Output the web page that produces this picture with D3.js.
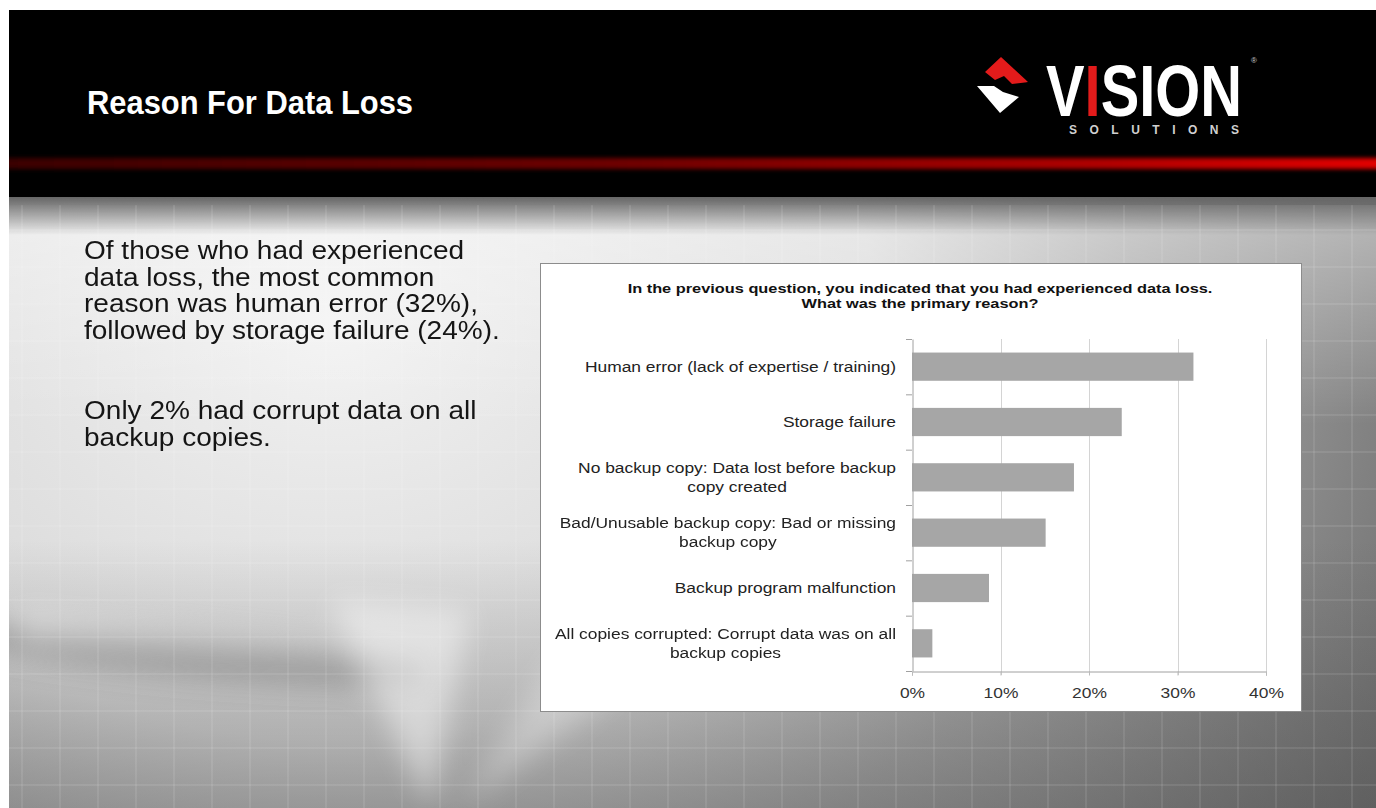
<!DOCTYPE html>
<html>

<head>
    <meta charset="utf-8">
    <title>Reason For Data Loss</title>
    <script src="https://d3js.org/d3.v7.min.js"></script>
    <style>
        body {
            margin: 0;
            background: #fff;
        }

        text {
            font-family: Arial, "Liberation Sans", sans-serif;
        }
    </style>
</head>

<body>
    <svg width="1376" height="808"></svg>
    <script>
        // Chart data
        var categories = [
            "Human error (lack of expertise / training)",
            "Storage failure",
            "No backup copy: Data lost before backup copy created",
            "Bad/Unusable backup copy: Bad or missing backup copy",
            "Backup program malfunction",
            "All copies corrupted: Corrupt data was on all backup copies"
        ];
        var categoryLines = [
            ["Human error (lack of expertise / training)"],
            ["Storage failure"],
            ["No backup copy: Data lost before backup", "copy created"],
            ["Bad/Unusable backup copy: Bad or missing", "backup copy"],
            ["Backup program malfunction"],
            ["All copies corrupted: Corrupt data was on all", "backup copies"]
        ];
        var values = [0.318, 0.237, 0.183, 0.151, 0.087, 0.023];
        var tickValues = [0, 0.1, 0.2, 0.3, 0.4];

        var chartTitle = [
            "In the previous question, you indicated that you had experienced data loss.",
            "What was the primary reason?"
        ];
        var bodyText = [
            "Of those who had experienced",
            "data loss, the most common",
            "reason was human error (32%),",
            "followed by storage failure (24%).",
            "",
            "Only 2% had corrupt data on all",
            "backup copies."
        ];

        var width = 1376;
        var height = 808;
        var labelScale = 1.2;   // the slide text is a bit wider than plain Arial

        var svg = d3.select("svg")
            .attr("width", width)
            .attr("height", height);

        var defs = svg.append("defs");

        // Gradients for the slide background
        var bodyGrad = defs.append("radialGradient")
            .attr("id", "bodyGrad")
            .attr("gradientUnits", "userSpaceOnUse")
            .attr("cx", 330).attr("cy", 320).attr("r", 1000)
            .attr("gradientTransform", "translate(330,320) scale(1.3,1) translate(-330,-320)");
        bodyGrad.append("stop").attr("offset", "0").attr("stop-color", "#f2f2f2");
        bodyGrad.append("stop").attr("offset", "0.42").attr("stop-color", "#d8d8d8");
        bodyGrad.append("stop").attr("offset", "0.62").attr("stop-color", "#a6a6a6");
        bodyGrad.append("stop").attr("offset", "0.8").attr("stop-color", "#838383");
        bodyGrad.append("stop").attr("offset", "0.95").attr("stop-color", "#686868");

        var topLight = defs.append("linearGradient")
            .attr("id", "topLight")
            .attr("x1", 0).attr("y1", 0).attr("x2", 0).attr("y2", 1);
        topLight.append("stop").attr("offset", "0").attr("stop-color", "#fff").attr("stop-opacity", 0.45);
        topLight.append("stop").attr("offset", "1").attr("stop-color", "#fff").attr("stop-opacity", 0);

        var bottomShade = defs.append("linearGradient")
            .attr("id", "bottomShade")
            .attr("x1", 0).attr("y1", 0).attr("x2", 0).attr("y2", 1);
        bottomShade.append("stop").attr("offset", "0").attr("stop-color", "#505050").attr("stop-opacity", 0);
        bottomShade.append("stop").attr("offset", "1").attr("stop-color", "#505050").attr("stop-opacity", 0.4);

        var topShade = defs.append("linearGradient")
            .attr("id", "topShade")
            .attr("x1", 0).attr("y1", 0).attr("x2", 0).attr("y2", 1);
        topShade.append("stop").attr("offset", "0").attr("stop-color", "#666");
        topShade.append("stop").attr("offset", "1").attr("stop-color", "#666").attr("stop-opacity", 0);

        var redGrad = defs.append("linearGradient")
            .attr("id", "redGrad")
            .attr("x1", 0).attr("y1", 0).attr("x2", 1).attr("y2", 0);
        redGrad.append("stop").attr("offset", "0").attr("stop-color", "#3a0404");
        redGrad.append("stop").attr("offset", "0.45").attr("stop-color", "#6e0000");
        redGrad.append("stop").attr("offset", "0.8").attr("stop-color", "#b00000");
        redGrad.append("stop").attr("offset", "1").attr("stop-color", "#e30000");

        defs.append("filter").attr("id", "blur")
            .attr("x", "-50%").attr("y", "-50%").attr("width", "200%").attr("height", "200%")
            .append("feGaussianBlur").attr("stdDeviation", 14);
        defs.append("filter").attr("id", "softBlur")
            .attr("x", "-20%").attr("y", "-200%").attr("width", "140%").attr("height", "500%")
            .append("feGaussianBlur").attr("stdDeviation", 2);
        defs.append("clipPath").attr("id", "slideClip")
            .append("rect").attr("x", 9).attr("y", 10).attr("width", width - 9).attr("height", height - 10);

        var slide = svg.append("g").attr("clip-path", "url(#slideClip)");

        // Body background
        slide.append("rect")
            .attr("x", 9).attr("y", 197)
            .attr("width", width - 9).attr("height", height - 197)
            .attr("fill", "url(#bodyGrad)");
        slide.append("rect")
            .attr("x", 9).attr("y", 205)
            .attr("width", width - 9).attr("height", 220)
            .attr("fill", "url(#topLight)");
        slide.append("rect")
            .attr("x", 9).attr("y", 540)
            .attr("width", width - 9).attr("height", height - 540)
            .attr("fill", "url(#bottomShade)");

        // Streaks in the lower left
        var streaks = slide.append("g").attr("filter", "url(#blur)");
        streaks.append("ellipse")
            .attr("cx", 190).attr("cy", 655).attr("rx", 240).attr("ry", 20)
            .attr("transform", "rotate(5,190,655)")
            .attr("fill", "#666").attr("opacity", 0.45);
        streaks.append("path")
            .attr("d", "M430,808 L330,600 L470,610 Z")
            .attr("fill", "#fff").attr("opacity", 0.45);
        streaks.append("path")
            .attr("d", "M460,808 L560,650 L620,690 Z")
            .attr("fill", "#fff").attr("opacity", 0.3);
        streaks.append("path")
            .attr("d", "M20,610 L420,660 L20,640 Z")
            .attr("fill", "#fff").attr("opacity", 0.35);

        slide.append("rect")
            .attr("x", 9).attr("y", 197)
            .attr("width", width - 9).attr("height", 38)
            .attr("fill", "url(#topShade)");

        // Faint grid over the background
        var grid = slide.append("g")
            .attr("stroke", "#fff")
            .attr("stroke-opacity", 0.12)
            .attr("stroke-width", 1.5);
        grid.selectAll(".vline")
            .data(d3.range(22, width, 38))
            .enter().append("line")
            .attr("x1", function (d) { return d; })
            .attr("x2", function (d) { return d; })
            .attr("y1", 205).attr("y2", height);
        grid.selectAll(".hline")
            .data(d3.range(230, height, 37))
            .enter().append("line")
            .attr("x1", 9).attr("x2", width)
            .attr("y1", function (d) { return d; })
            .attr("y2", function (d) { return d; });

        // Header bar
        slide.append("rect")
            .attr("x", 9).attr("y", 10)
            .attr("width", width - 9).attr("height", 187)
            .attr("fill", "#000");
        slide.append("rect")
            .attr("x", 0).attr("y", 158)
            .attr("width", width + 10).attr("height", 11)
            .attr("fill", "url(#redGrad)")
            .attr("filter", "url(#softBlur)");

        svg.append("text")
            .attr("x", 87).attr("y", 114)
            .attr("fill", "#fff")
            .attr("font-size", 33)
            .attr("font-weight", "bold")
            .attr("textLength", 326)
            .attr("lengthAdjust", "spacingAndGlyphs")
            .text("Reason For Data Loss");

        // Logo
        var logo = svg.append("g");
        logo.append("path")
            .attr("d", "M985,72 L1001,57 L1028,82 L1012,84 L1004,76 L995,80 Z")
            .attr("fill", "#e31b1b");
        logo.append("path")
            .attr("d", "M977,86 L994,86 L1003,92 L1019,97 L1000,113 Z")
            .attr("fill", "#fff");
        var vision = logo.append("text")
            .attr("x", 1046).attr("y", 116)
            .attr("font-size", 72)
            .attr("font-weight", "bold")
            .attr("fill", "#fff")
            .attr("textLength", 196)
            .attr("lengthAdjust", "spacingAndGlyphs");
        vision.append("tspan").text("V");
        vision.append("tspan").attr("fill", "#e31b1b").text("I");
        vision.append("tspan").text("SION");
        logo.append("text")
            .attr("x", 1251).attr("y", 63)
            .attr("font-size", 8)
            .attr("fill", "#ccc")
            .text("®");
        logo.append("text")
            .attr("x", 1069).attr("y", 134)
            .attr("font-size", 12)
            .attr("font-weight", "bold")
            .attr("fill", "#d0d0d0")
            .attr("textLength", 170)
            .attr("lengthAdjust", "spacing")
            .text("SOLUTIONS");

        // Left body text
        var lineY = [259, 286, 312, 339, 0, 419, 446];
        var body = svg.append("g");
        body.selectAll("text")
            .data(bodyText)
            .enter().append("text")
            .attr("transform", function (d, i) { return "translate(84," + lineY[i] + ")"; })
            .attr("font-size", 25)
            .attr("fill", "#151515")
            .text(function (d) { return d; });
        // stretch the block so its widest line matches the slide
        var widest = d3.max(body.selectAll("text").nodes(), function (n) { return n.getComputedTextLength(); });
        var bodyScale = 416 / widest;
        body.selectAll("text")
            .attr("transform", function (d, i) { return "translate(84," + lineY[i] + ") scale(" + bodyScale + ",1)"; });

        // Chart box
        svg.append("rect")
            .attr("x", 540.5).attr("y", 263.5)
            .attr("width", 761).attr("height", 448)
            .attr("fill", "#fff")
            .attr("stroke", "#8c8c8c");

        // Chart title: both lines squeezed by the same factor
        var titleG = svg.append("g");
        titleG.selectAll("text")
            .data(chartTitle)
            .enter().append("text")
            .attr("font-size", 13.5)
            .attr("font-weight", "bold")
            .attr("fill", "#111")
            .attr("text-anchor", "middle")
            .text(function (d) { return d; });
        var titleScale = 585 / titleG.select("text").node().getComputedTextLength();
        titleG.selectAll("text")
            .attr("transform", function (d, i) {
                return "translate(920," + (293 + i * 15) + ") scale(" + titleScale + ",1)";
            });

        // Scales
        var x = d3.scaleLinear()
            .domain([0, 0.4])
            .range([912, 1266]);

        var y = d3.scaleBand()
            .domain(categories)
            .range([339, 671])
            .paddingInner(0.49)
            .paddingOuter(0.245);

        // Gridlines
        svg.append("g")
            .selectAll("line")
            .data(tickValues.slice(1))
            .enter().append("line")
            .attr("x1", function (d) { return Math.round(x(d)) + 0.5; })
            .attr("x2", function (d) { return Math.round(x(d)) + 0.5; })
            .attr("y1", 339).attr("y2", 675)
            .attr("stroke", "#d4d4d4");

        // Bars
        svg.selectAll(".bar")
            .data(values)
            .enter().append("rect")
            .attr("class", "bar")
            .attr("x", x(0))
            .attr("y", function (d, i) { return y(categories[i]); })
            .attr("width", function (d) { return x(d) - x(0); })
            .attr("height", y.bandwidth())
            .attr("fill", "#a6a6a6");

        // Axes
        var xAxis = svg.append("g")
            .attr("transform", "translate(0,671.5)")
            .call(d3.axisBottom(x).tickValues(tickValues).tickFormat(d3.format(".0%")).tickSize(4).tickPadding(12));
        xAxis.select(".domain").attr("stroke", "#a0a0a0");
        xAxis.selectAll(".tick line").attr("stroke", "#bbb");
        xAxis.selectAll(".tick text")
            .attr("font-size", 14.5)
            .attr("font-family", "Arial, sans-serif")
            .attr("fill", "#333")
            .attr("transform", "scale(" + labelScale + ",1)");

        var yAxis = svg.append("g")
            .attr("transform", "translate(912.5,0)")
            .call(d3.axisLeft(y).tickSize(0).tickFormat(""));
        yAxis.select(".domain").attr("stroke", "#a0a0a0");
        yAxis.selectAll(".tick").remove();

        // Category separators on the y axis
        svg.append("g")
            .selectAll("line")
            .data(d3.range(categories.length + 1))
            .enter().append("line")
            .attr("x1", 906).attr("x2", 912)
            .attr("y1", function (d) { return 339 + d * y.step() + 0.5; })
            .attr("y2", function (d) { return 339 + d * y.step() + 0.5; })
            .attr("stroke", "#a0a0a0");

        // Category labels: first line right-aligned, wrapped line centred under it
        var labels = svg.append("g")
            .selectAll("g")
            .data(categoryLines)
            .enter().append("g")
            .attr("transform", function (d, i) {
                var yc = y(categories[i]) + y.bandwidth() / 2;
                return "translate(896," + yc + ") scale(" + labelScale + ",1)";
            });
        labels.each(function (d) {
            var g = d3.select(this);
            var first = g.append("text")
                .attr("x", 0)
                .attr("y", 5 - (d.length - 1) * 9.25)
                .attr("text-anchor", "end")
                .attr("font-size", 14.5)
                .attr("fill", "#222")
                .text(d[0]);
            if (d.length > 1) {
                var w = first.node().getComputedTextLength();
                g.append("text")
                    .attr("x", -w / 2)
                    .attr("y", 5 + 9.25)
                    .attr("text-anchor", "middle")
                    .attr("font-size", 14.5)
                    .attr("fill", "#222")
                    .text(d[1]);
            }
        });
    </script>
</body>

</html>
